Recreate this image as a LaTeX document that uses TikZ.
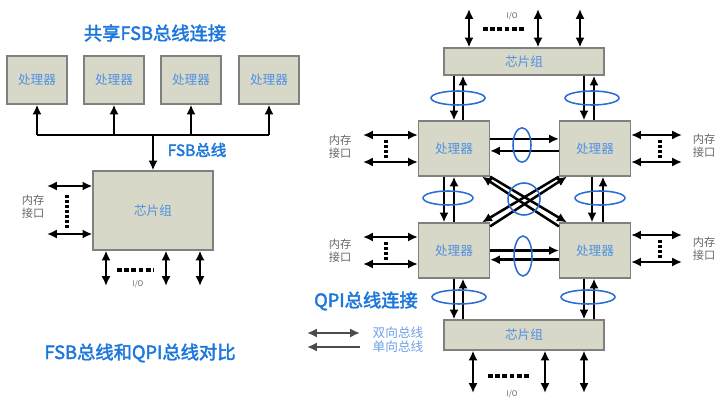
\documentclass[tikz,border=0pt]{standalone}
\usepackage{fontspec}
\setmainfont{Noto Sans CJK SC}[AutoFakeBold=2.5]
\usetikzlibrary{arrows.meta}
\definecolor{titreblue}{RGB}{30,120,220}
\definecolor{labelblue}{RGB}{80,145,225}
\definecolor{legblue}{RGB}{110,160,230}
\definecolor{ringblue}{RGB}{40,110,210}
\definecolor{boxfill}{RGB}{216,216,200}
\definecolor{boxgray}{RGB}{128,128,128}

\begin{document}
\begin{tikzpicture}[x=0.025cm,y=-0.025cm]
\useasboundingbox (0,0) rectangle (717,405);
\tikzstyle{boite}=[rectangle,draw=boxgray,line width=0.9pt,fill=boxfill,text=labelblue,font=\fontsize{9}{10}\selectfont]
\tikzstyle{proc}=[boite,minimum width=1.5cm,minimum height=1.2cm]
\tikzstyle{qpi}=[boite,minimum width=1.775cm,minimum height=1.375cm]
\tikzstyle{titre}=[text=titreblue,font=\fontsize{13}{15}\selectfont\bfseries]
\tikzstyle{memo}=[text=black!60,font=\fontsize{8}{9.5}\selectfont,align=center]
\tikzstyle{iotxt}=[text=black!60,font=\fontsize{5.5}{6}\selectfont]
\tikzstyle{suite}=[-{Latex[length=7pt,width=6.5pt]},line width=1.8pt]
\tikzstyle{double}=[{Latex[length=7pt,width=6.5pt]}-{Latex[length=7pt,width=6.5pt]},line width=1.8pt]
\tikzstyle{pointille}=[line width=2.2pt,dash pattern=on 2pt off 1.6pt]
\tikzstyle{tirets}=[line width=2.2pt,dash pattern=on 3.5pt off 1.6pt]
\tikzstyle{anneau}=[draw=ringblue,line width=1.1pt]

% FSB
\node[titre] (titreFSB) at (155,33) {共享FSB总线连接};
\node[proc] (pA) at (37,80) {处理器};
\node[proc] (pB) at (114,80) {处理器};
\node[proc] (pC) at (191,80) {处理器};
\node[proc] (pD) at (269,80) {处理器};
\node[boite,minimum width=3cm,minimum height=1.975cm] (cs) at (153,210.5) {芯片组};

\coordinate (fsb) at (153,135);
\draw[line width=1.8pt] (fsb -| pA.south) -- (fsb -| pD.south);
\draw[suite] (fsb -| pA.south) -- (pA.south);
\draw[suite] (fsb -| pB.south) -- (pB.south);
\draw[suite] (fsb -| pC.south) -- (pC.south);
\draw[suite] (fsb -| pD.south) -- (pD.south);
\draw[suite] (fsb) -- (cs.north);
\node[text=titreblue,font=\fontsize{11}{12}\selectfont\bfseries] (fsbtxt) at (197,150) {FSB总线};

\coordinate (m1) at (47,186);
\coordinate (m2) at (47,234);
\draw[double] (m1) -- (m1 -| cs.west);
\draw[double] (m2) -- (m2 -| cs.west);
\draw[pointille] (67,195) -- (67,228);
\node[memo] (memA) at (33,207) {内存\\接口};

\coordinate (io1) at (106,286);
\coordinate (io2) at (166,286);
\coordinate (io3) at (200,286);
\draw[double] (io1 |- cs.south) -- (io1);
\draw[double] (io2 |- cs.south) -- (io2);
\draw[double] (io3 |- cs.south) -- (io3);
\draw[tirets] (117,270) -- (153,270);
\node[iotxt] (ioA) at (138,284) {I/O};

\node[titre] (compar) at (140,353) {FSB总线和QPI总线对比};

% QPI
\node[boite,minimum width=4cm,minimum height=0.675cm] (csH) at (524,61.5) {芯片组};
\node[boite,minimum width=4cm,minimum height=0.75cm] (csB) at (524,335) {芯片组};
\node[qpi] (P1) at (454,148.5) {处理器};
\node[qpi] (P2) at (595,148.5) {处理器};
\node[qpi] (P3) at (454,250.5) {处理器};
\node[qpi] (P4) at (595,250.5) {处理器};

\draw[suite] (P1.north |- csH.south) -- (P1.north);
\draw[suite] ([xshift=0.225cm]P1.north) -- ([xshift=0.225cm]P1.north |- csH.south);
\draw[suite] ([xshift=-0.275cm]P2.north |- csH.south) -- ([xshift=-0.275cm]P2.north);
\draw[suite] ([xshift=-0.025cm]P2.north) -- ([xshift=-0.025cm]P2.north |- csH.south);

\draw[suite] ([xshift=-0.25cm]P1.south) -- ([xshift=-0.25cm]P3.north);
\draw[suite] (P3.north) -- (P1.south);
\draw[suite] ([xshift=-0.075cm]P2.south) -- ([xshift=-0.075cm]P4.north);
\draw[suite] ([xshift=0.2cm]P4.north) -- ([xshift=0.2cm]P2.south);

\draw[suite] (P3.south) -- (P3.south |- csB.north);
\draw[suite] ([xshift=0.225cm]P3.south |- csB.north) -- ([xshift=0.225cm]P3.south);
\draw[suite] ([xshift=-0.275cm]P4.south) -- ([xshift=-0.275cm]P4.south |- csB.north);
\draw[suite] ([xshift=-0.025cm]P4.south |- csB.north) -- ([xshift=-0.025cm]P4.south);

\draw[suite] ([yshift=0.24cm]P1.east) -- ([yshift=0.24cm]P1.east -| P2.west);
\draw[suite] ([yshift=-0.06cm]P2.west) -- ([yshift=-0.06cm]P2.west -| P1.east);
\draw[suite] (P3.east) -- (P3.east -| P4.west);
\draw[suite] ([yshift=-0.23cm]P4.west) -- ([yshift=-0.23cm]P4.west -| P3.east);

\draw[suite] (P1.south east) -- ([xshift=0.2cm]P4.north west);
\draw[suite] ([yshift=-0.1cm]P4.north west) -- ([xshift=-0.2cm]P1.south east);
\draw[suite] (P2.south west) -- ([xshift=-0.2cm]P3.north east);
\draw[suite] ([yshift=-0.1cm]P3.north east) -- ([xshift=0.2cm]P2.south west);

% memoire
\coordinate (mh1) at (363,135);
\coordinate (mh2) at (363,162);
\coordinate (mh3) at (682,135);
\coordinate (mh4) at (682,162);
\coordinate (mb1) at (363,237);
\coordinate (mb2) at (363,264);
\coordinate (mb3) at (682,235);
\coordinate (mb4) at (682,262);
\draw[double] (mh1) -- (mh1 -| P1.west);
\draw[double] (mh2) -- (mh2 -| P1.west);
\draw[double] (mh3) -- (mh3 -| P2.east);
\draw[double] (mh4) -- (mh4 -| P2.east);
\draw[double] (mb1) -- (mb1 -| P3.west);
\draw[double] (mb2) -- (mb2 -| P3.west);
\draw[double] (mb3) -- (mb3 -| P4.east);
\draw[double] (mb4) -- (mb4 -| P4.east);
\draw[pointille] (386,140) -- (386,158);
\draw[pointille] (660,140) -- (660,158);
\draw[pointille] (386,242) -- (386,260);
\draw[pointille] (660,240) -- (660,258);
\node[memo] (memB) at (340,147) {内存\\接口};
\node[memo] (memC) at (704,146) {内存\\接口};
\node[memo] (memD) at (340,251) {内存\\接口};
\node[memo] (memE) at (704,249) {内存\\接口};

% I/O
\coordinate (t1) at (469,9);
\coordinate (t2) at (538,9);
\coordinate (t3) at (580,9);
\draw[double] (t1) -- (t1 |- csH.north);
\draw[double] (t2) -- (t2 |- csH.north);
\draw[double] (t3) -- (t3 |- csH.north);
\draw[tirets] (483,29) -- (525,29);
\node[iotxt] (ioH) at (512,16) {I/O};
\coordinate (b1) at (473,393);
\coordinate (b2) at (545,393);
\coordinate (b3) at (584,393);
\draw[double] (b1 |- csB.south) -- (b1);
\draw[double] (b2 |- csB.south) -- (b2);
\draw[double] (b3 |- csB.south) -- (b3);
\draw[tirets] (488,376) -- (530,376);
\node[iotxt] (ioB) at (512,394) {I/O};

% anneaux
\draw[anneau] (458,98) ellipse [x radius=0.675cm,y radius=0.175cm];
\draw[anneau] (592,98) ellipse [x radius=0.675cm,y radius=0.175cm];
\draw[anneau] (522,145) ellipse [x radius=0.225cm,y radius=0.43cm];
\draw[anneau] (448,198) ellipse [x radius=0.625cm,y radius=0.175cm];
\draw[anneau] (600,198) ellipse [x radius=0.625cm,y radius=0.175cm];
\draw[anneau] (524,199) circle [radius=0.4cm];
\draw[anneau] (523,256) ellipse [x radius=0.225cm,y radius=0.5cm];
\draw[anneau] (459,297) ellipse [x radius=0.675cm,y radius=0.175cm];
\draw[anneau] (588,297) ellipse [x radius=0.675cm,y radius=0.175cm];

% legende
\node[titre] (titreQPI) at (366,301) {QPI总线连接};
\coordinate (lg1) at (307,333);
\coordinate (lg2) at (360,333);
\coordinate (lg3) at (360,347);
\coordinate (lg4) at (307,347);
\draw[double,black!70,line width=1.4pt] (lg1) -- (lg2);
\draw[suite,black!70,line width=1.4pt] (lg3) -- (lg4);
\node[text=legblue,font=\fontsize{9}{10}\selectfont] (bidir) at (398,333) {双向总线};
\node[text=legblue,font=\fontsize{9}{10}\selectfont] (unidir) at (398,347) {单向总线};

\end{tikzpicture}
\end{document}
